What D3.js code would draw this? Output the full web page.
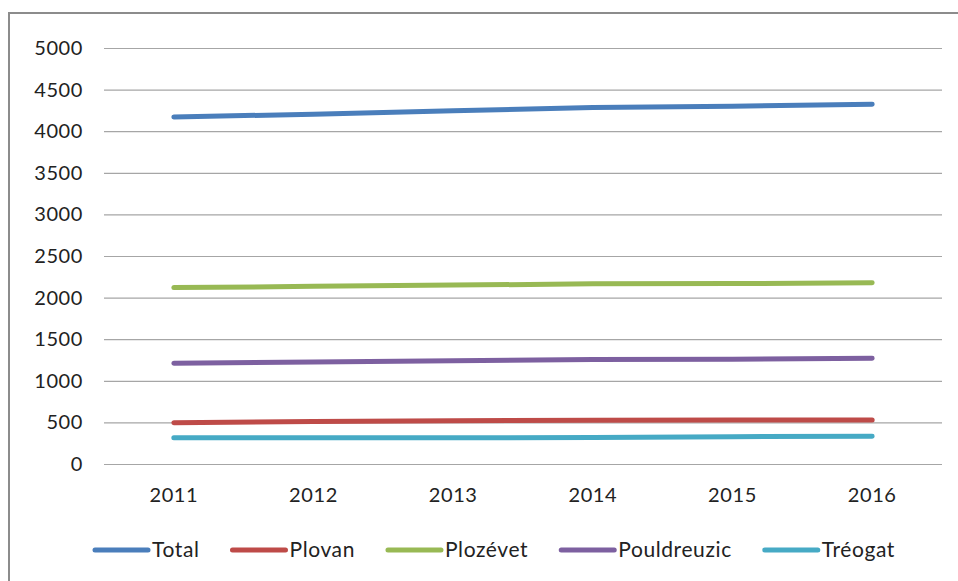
<!DOCTYPE html>
<html>
<head>
<meta charset="utf-8">
<script src="https://cdn.jsdelivr.net/npm/d3@7"></script>
<style>
  body { margin: 0; background: #fff; }
  text { font-family: Lato, "Open Sans", sans-serif; fill: #222; letter-spacing: 0.6px; }
</style>
</head>
<body>
<script>
// data
var years = ["2011", "2012", "2013", "2014", "2015", "2016"];
var seriesNames = ["Total", "Plovan", "Plozévet", "Pouldreuzic", "Tréogat"];
var total = [4170, 4205, 4245, 4285, 4300, 4325];
var plovan = [497, 510, 520, 527, 530, 530];
var plozevet = [2120, 2135, 2150, 2165, 2168, 2178];
var pouldreuzic = [1210, 1225, 1240, 1255, 1258, 1270];
var treogat = [316, 316, 316, 318, 328, 333];
var yTicks = [0, 500, 1000, 1500, 2000, 2500, 3000, 3500, 4000, 4500, 5000];
var colors = ["#4a7ebb", "#be4b48", "#98b954", "#7d60a0", "#46aac5"];

var w = 958, h = 581;
var padLeft = 104, padRight = 942, padTop = 48, padBottom = 464;

var series = [total, plovan, plozevet, pouldreuzic, treogat];

var svg = d3.select("body").append("svg")
            .attr("width", w)
            .attr("height", h);

// outer frame (runs off the right / bottom edge like the picture)
svg.append("rect")
   .attr("x", 9).attr("y", 13)
   .attr("width", w + 20).attr("height", h + 20)
   .attr("fill", "none")
   .attr("stroke", "#8c8c8c")
   .attr("stroke-width", 2);

/***Scales***/
var xScale = d3.scaleBand().domain(years).range([padLeft, padRight]);
var yScale = d3.scaleLinear().domain([0, 5000]).range([padBottom, padTop]);

/***Gridlines + y labels***/
var yAxis = d3.axisLeft(yScale)
              .tickValues(yTicks)
              .tickFormat(d3.format("d"))
              .tickSize(-(padRight - padLeft))
              .tickPadding(21);
var gy = svg.append("g")
            .attr("transform", "translate(" + padLeft + ",0)")
            .call(yAxis);
gy.select(".domain").remove();
gy.selectAll(".tick line").attr("stroke", "#a6a6a6").attr("stroke-width", 1.2);
gy.selectAll(".tick text").attr("font-size", 20).attr("fill", "#222")
  .style("font-family", "Lato, sans-serif");

/***x labels***/
var xAxis = d3.axisBottom(xScale).tickSize(0).tickPadding(24);
var gx = svg.append("g")
            .attr("transform", "translate(0," + padBottom + ")")
            .call(xAxis);
gx.select(".domain").remove();
gx.selectAll(".tick text").attr("font-size", 20).attr("fill", "#222")
  .style("font-family", "Lato, sans-serif");

/***Lines***/
var line = d3.line()
             .x(function(d, i) { return xScale(years[i]) + xScale.bandwidth() / 2; })
             .y(function(d) { return yScale(d); });

svg.selectAll(".series")
   .data(series)
   .enter()
   .append("path")
   .attr("class", "series")
   .attr("d", line)
   .attr("fill", "none")
   .attr("stroke", function(d, i) { return colors[i]; })
   .attr("stroke-width", 5)
   .attr("stroke-linecap", "round")
   .attr("stroke-linejoin", "round");

/***Legend***/
var legend = svg.append("g");
var items = legend.selectAll("g")
                  .data(seriesNames)
                  .enter()
                  .append("g");
items.append("line")
     .attr("x1", 0).attr("x2", 53)
     .attr("y1", 0).attr("y2", 0)
     .attr("stroke", function(d, i) { return colors[i]; })
     .attr("stroke-width", 5)
     .attr("stroke-linecap", "round");
items.append("text")
     .attr("x", 57)
     .attr("y", 7)
     .attr("font-size", 21)
     .text(function(d) { return d; });

var xpos = 0;
items.each(function() {
  var tw = d3.select(this).select("text").node().getComputedTextLength();
  d3.select(this).attr("transform", "translate(" + xpos + ",0)");
  xpos += 57 + tw + 33;
});
var legW = xpos - 33;
legend.attr("transform", "translate(" + (495 - legW / 2) + ",550)");
</script>
</body>
</html>
